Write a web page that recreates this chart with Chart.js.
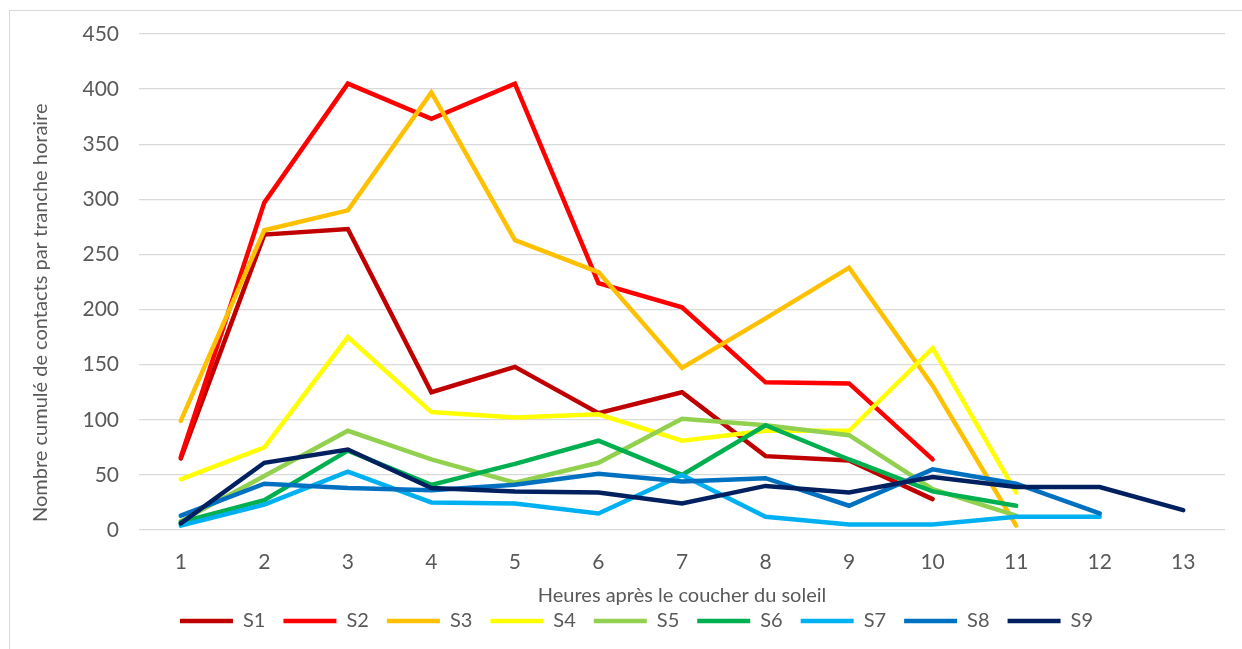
<!DOCTYPE html>
<html>
<head>
<meta charset="utf-8">
<script src="https://cdn.jsdelivr.net/npm/chart.js@4/dist/chart.umd.min.js"></script>
<style>
  body { margin: 0; background: #fff; overflow: hidden; }
  #wrap { position: relative; width: 1242px; height: 649px; }
  #frame { position: absolute; left: 9px; top: 10px; width: 1260px; height: 660px; border: 1px solid #d9d9d9; }
  canvas { position: absolute; left: 0; top: 0; }
</style>
</head>
<body>
<div id="wrap">
  <div id="frame"></div>
  <canvas id="chart" width="1242" height="649"></canvas>
</div>
<script>
// heures après le coucher du soleil
const hours = ['1', '2', '3', '4', '5', '6', '7', '8', '9', '10', '11', '12', '13'];

// nombre cumulé de contacts par site
const s1 = [65, 268, 273, 125, 148, 106, 125, 67, 63, 28];
const s2 = [66, 297, 405, 373, 405, 224, 202, 134, 133, 64];
const s3 = [99, 272, 290, 397, 263, 234, 147, 192, 238, 131, 4];
const s4 = [46, 75, 175, 107, 102, 105, 81, 90, 90, 165, 34];
const s5 = [8, 49, 90, 64, 43, 61, 101, 95, 86, 37, 13];
const s6 = [7, 27, 72, 41, 60, 81, 50, 95, 64, 35, 22];
const s7 = [4, 23, 53, 25, 24, 15, 50, 12, 5, 5, 12, 12];
const s8 = [13, 42, 38, 36, 41, 51, 44, 47, 22, 55, 42, 15];
const s9 = [6, 61, 73, 38, 35, 34, 24, 40, 34, 48, 39, 39, 18];

const seriesNames = ['S1', 'S2', 'S3', 'S4', 'S5', 'S6', 'S7', 'S8', 'S9'];
const seriesValues = [s1, s2, s3, s4, s5, s6, s7, s8, s9];
const colors = ['#C00000', '#FF0000', '#FFC000', '#FFFF00', '#92D050', '#00B050', '#00B0F0', '#0070C0', '#002060'];

const textColor = '#595959';
const fontFamily = 'Lato, "Open Sans", sans-serif';

const datasets = seriesNames.map((name, i) => ({
    label: name,
    data: seriesValues[i],
    borderColor: colors[i],
    backgroundColor: colors[i],
    borderWidth: 4.5,
    borderCapStyle: 'round',
    borderJoinStyle: 'miter',
    pointRadius: 0,
    tension: 0,
    // last series on top, like Excel
    order: seriesNames.length - i
}));

// nudge the legend a bit to the right, Excel doesn't center it on the canvas
const legendShift = {
    id: 'legendShift',
    afterLayout(chart) {
        const lg = chart.legend;
        lg.left += 19;
        lg.right += 19;
    }
};

new Chart(document.getElementById('chart'), {
    type: 'line',
    data: { labels: hours, datasets: datasets },
    plugins: [legendShift],
    options: {
        responsive: false,
        animation: false,
        layout: { padding: { top: 34, right: 17, left: 10, bottom: 8 } },
        plugins: {
            tooltip: { enabled: false },
            legend: {
                position: 'bottom',
                labels: {
                    usePointStyle: true,
                    pointStyle: 'line',
                    pointStyleWidth: 53,
                    boxHeight: 5,
                    padding: 18,
                    color: textColor,
                    font: { family: fontFamily, size: 20 },
                    sort: (a, b) => a.datasetIndex - b.datasetIndex
                }
            }
        },
        scales: {
            x: {
                offset: true,
                grid: { display: false, drawTicks: false },
                border: { display: false },
                ticks: { color: textColor, font: { family: fontFamily, size: 21 }, padding: 20 },
                title: {
                    display: true,
                    text: 'Heures après le coucher du soleil',
                    color: textColor,
                    font: { family: fontFamily, size: 20 },
                    padding: { top: 0, bottom: -15 }
                },
                afterFit: (scale) => { scale.height = 63; }
            },
            y: {
                min: 0,
                max: 450,
                ticks: { stepSize: 50, color: textColor, font: { family: fontFamily, size: 21 }, padding: 20 },
                grid: { color: '#d9d9d9', lineWidth: 1.3, drawTicks: false },
                border: { display: false },
                title: {
                    display: true,
                    text: 'Nombre cumulé de contacts par tranche horaire\u00a0\u00a0\u00a0\u00a0\u00a0\u00a0\u00a0\u00a0\u00a0\u00a0\u00a0\u00a0',
                    color: textColor,
                    font: { family: fontFamily, size: 20 },
                    padding: { top: 19, bottom: 0 }
                },
                afterFit: (scale) => { scale.width = 129; }
            }
        }
    }
});
</script>
</body>
</html>
